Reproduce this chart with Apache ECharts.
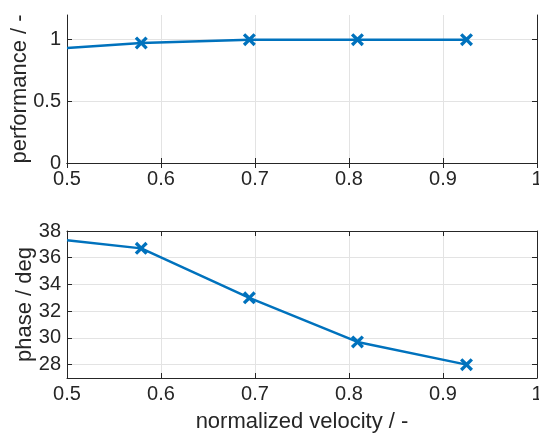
<!DOCTYPE html>
<html>
<head>
<meta charset="utf-8">
<script src="https://cdn.jsdelivr.net/npm/echarts@6/dist/echarts.min.js"></script>
<style>
html,body{margin:0;padding:0;background:#fff;}
#chart{width:539px;height:433px;}
</style>
</head>
<body>
<div id="chart"></div>
<script>
// Data
const velocity = [0.5, 0.579, 0.694, 0.809, 0.925];
const performance = [0.932, 0.973, 1.0, 1.0, 1.0];
const phase = [37.3, 36.7, 33.0, 29.7, 28.0];
const hasMarker = [false, true, true, true, true];
const xTicks = [0.5, 0.6, 0.7, 0.8, 0.9, 1];
const perfTicks = [0, 0.5, 1];
const phaseTicks = [28, 30, 32, 34, 36, 38];

const FONT = 'Liberation Sans';
const TXT = '#262626';
const LINEC = '#0072BD';
const GRIDC = '#e3e3e3';
const XMARK = 'path://M1.8,0 L5,3.2 L8.2,0 L10,1.8 L6.8,5 L10,8.2 L8.2,10 L5,6.8 L1.8,10 L0,8.2 L3.2,5 L0,1.8 Z';

function seriesData(ys) {
  return velocity.map((v, i) => hasMarker[i]
    ? { value: [v, ys[i]] }
    : { value: [v, ys[i]], symbol: 'none' });
}

const axisLineStyle = { show: true, lineStyle: { color: TXT, width: 1 } };
const tickStyle = { show: true, inside: true, length: 5, lineStyle: { color: TXT, width: 1 } };
const labelStyle = { color: TXT, fontFamily: FONT, fontSize: 20 };
const nameStyle = { color: TXT, fontFamily: FONT, fontSize: 22 };

function xAxes(gridIndex, withName) {
  return [
    {
      type: 'value', gridIndex, min: 0.5, max: 1, interval: 0.1, position: 'bottom',
      axisLine: axisLineStyle,
      axisTick: Object.assign({ customValues: xTicks }, tickStyle),
      axisLabel: Object.assign({ customValues: xTicks, margin: 6, formatter: v => (v === 1 ? '1' : String(+v.toFixed(1))) }, labelStyle),
      splitLine: { show: true, lineStyle: { color: GRIDC, width: 1 } },
      name: withName ? 'normalized velocity / -' : '',
      nameLocation: 'middle', nameGap: 33, nameMoveOverlap: false, nameTextStyle: nameStyle
    },
    {
      type: 'value', gridIndex, min: 0.5, max: 1, interval: 0.1, position: 'top',
      axisLine: axisLineStyle,
      axisTick: Object.assign({ customValues: xTicks }, tickStyle),
      axisLabel: { show: false }, splitLine: { show: false }
    }
  ];
}

const option = {
  animation: false,
  backgroundColor: '#fff',
  grid: [
    { left: 67, right: 2, top: 15, height: 148, outerBoundsMode: 'none', containLabel: false },
    { left: 67, right: 2, top: 231, height: 147, outerBoundsMode: 'none', containLabel: false }
  ],
  xAxis: [].concat(xAxes(0, false), xAxes(1, true)),
  yAxis: [
    {
      type: 'value', gridIndex: 0, min: 0, max: 1.2, position: 'left',
      axisLine: axisLineStyle,
      axisTick: Object.assign({ customValues: perfTicks }, tickStyle),
      axisLabel: Object.assign({ customValues: perfTicks, margin: 6 }, labelStyle),
      splitLine: { show: true, lineStyle: { color: GRIDC, width: 1 } },
      name: 'performance / -', nameLocation: 'middle', nameGap: 36, nameMoveOverlap: false, nameTextStyle: nameStyle
    },
    {
      type: 'value', gridIndex: 0, min: 0, max: 1.2, position: 'right',
      axisLine: axisLineStyle,
      axisTick: Object.assign({ customValues: perfTicks }, tickStyle),
      axisLabel: { show: false }, splitLine: { show: false }
    },
    {
      type: 'value', gridIndex: 1, min: 27, max: 38, position: 'left',
      axisLine: axisLineStyle,
      axisTick: Object.assign({ customValues: phaseTicks }, tickStyle),
      axisLabel: Object.assign({ customValues: phaseTicks, margin: 6 }, labelStyle),
      splitLine: { show: true, lineStyle: { color: GRIDC, width: 1 } },
      name: 'phase / deg', nameLocation: 'middle', nameGap: 31, nameMoveOverlap: false, nameTextStyle: nameStyle
    },
    {
      type: 'value', gridIndex: 1, min: 27, max: 38, position: 'right',
      axisLine: axisLineStyle,
      axisTick: Object.assign({ customValues: phaseTicks }, tickStyle),
      axisLabel: { show: false }, splitLine: { show: false }
    }
  ],
  series: [
    {
      type: 'line', xAxisIndex: 0, yAxisIndex: 0, data: seriesData(performance),
      symbol: XMARK, symbolSize: 13, showSymbol: true,
      lineStyle: { color: LINEC, width: 2.5 }, itemStyle: { color: LINEC }
    },
    {
      type: 'line', xAxisIndex: 2, yAxisIndex: 2, data: seriesData(phase),
      symbol: XMARK, symbolSize: 13, showSymbol: true,
      lineStyle: { color: LINEC, width: 2.5 }, itemStyle: { color: LINEC }
    }
  ]
};

const chart = echarts.init(document.getElementById('chart'), null, { renderer: 'canvas' });
chart.setOption(option);
</script>
</body>
</html>
